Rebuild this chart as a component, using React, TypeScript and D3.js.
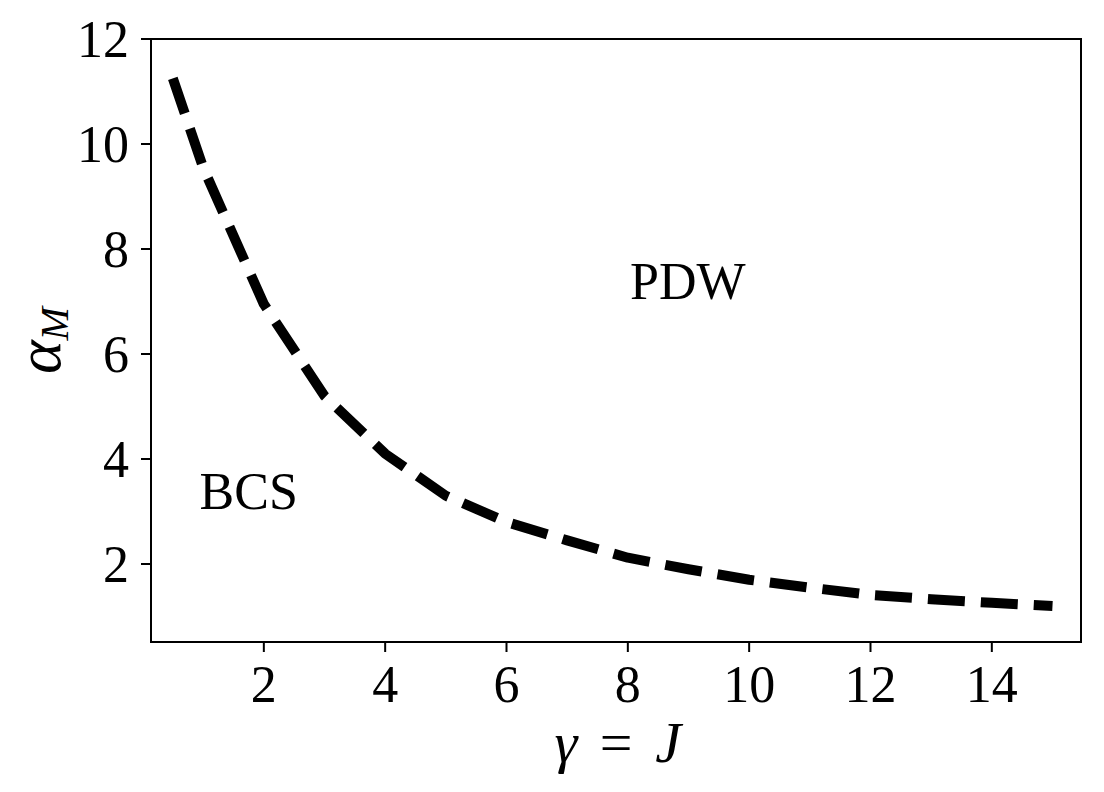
import React from "react";
import * as d3 from "d3";

const gammaValues = [0.5, 1, 2, 3, 4, 5, 6, 7, 8, 9, 10, 11, 12, 13, 14, 15];
const alphaValues = [11.25, 9.55, 6.95, 5.2, 4.1, 3.3, 2.8, 2.45, 2.12, 1.9, 1.7, 1.55, 1.41, 1.33, 1.26, 1.2];
const xTicks = [2, 4, 6, 8, 10, 12, 14];
const yTicks = [2, 4, 6, 8, 10, 12];
const regionLabels = [
  { text: "PDW", x: 8.99, y: 7.05 },
  { text: "BCS", x: 1.75, y: 3.05 },
];

const W = 1104;
const H = 792;
const M = { left: 151, right: 1081, top: 39, bottom: 642 };
const FONT = "'Liberation Serif', 'DejaVu Serif', serif";

export default function App() {
  const x = d3.scaleLinear().domain([0.14, 15.47]).range([M.left, M.right]);
  const y = d3.scaleLinear().domain([0.514, 12]).range([M.bottom, M.top]);
  const line = d3
    .line<number>()
    .x((_, i) => x(gammaValues[i]))
    .y((d) => y(d));
  const path = line(alphaValues) || "";
  const cx = (M.left + M.right) / 2;
  const cy = (M.top + M.bottom) / 2;
  return (
    <svg
      width={W}
      height={H}
      style={{ position: "absolute", left: 0, top: 0, background: "#fff" }}
      fontFamily={FONT}
    >
      <rect x={0} y={0} width={W} height={H} fill="#fff" />
      <path
        d={path}
        fill="none"
        stroke="#000"
        strokeWidth={10}
        strokeDasharray="37 16"
        strokeLinejoin="round"
      />
      {regionLabels.map((r) => (
        <text
          key={r.text}
          x={x(r.x)}
          y={y(r.y)}
          fontSize={52}
          textAnchor="middle"
          fill="#000"
        >
          {r.text}
        </text>
      ))}
      <rect
        x={M.left}
        y={M.top}
        width={M.right - M.left}
        height={M.bottom - M.top}
        fill="none"
        stroke="#000"
        strokeWidth={2}
      />
      {xTicks.map((t) => (
        <g key={"x" + t}>
          <line x1={x(t)} x2={x(t)} y1={M.bottom} y2={M.bottom + 10} stroke="#000" strokeWidth={2} />
          <text x={x(t)} y={M.bottom + 60} fontSize={52} textAnchor="middle" fill="#000">
            {t}
          </text>
        </g>
      ))}
      {yTicks.map((t) => (
        <g key={"y" + t}>
          <line x1={M.left - 10} x2={M.left} y1={y(t)} y2={y(t)} stroke="#000" strokeWidth={2} />
          <text x={M.left - 22} y={y(t) + 18} fontSize={52} textAnchor="end" fill="#000">
            {t}
          </text>
        </g>
      ))}
      <g fontSize={58} fill="#000" textAnchor="middle">
        <text x={cx - 50} y={762} fontStyle="italic">γ</text>
        <text x={cx} y={762}>=</text>
        <text x={cx + 52} y={762} fontStyle="italic">J</text>
      </g>
      <text
        transform={`translate(60, ${cy}) rotate(-90)`}
        fontSize={64}
        textAnchor="middle"
        fill="#000"
      >
        <tspan fontStyle="italic">α</tspan>
        <tspan fontStyle="italic" fontSize={40} dy={8}>M</tspan>
      </text>
    </svg>
  );
}
